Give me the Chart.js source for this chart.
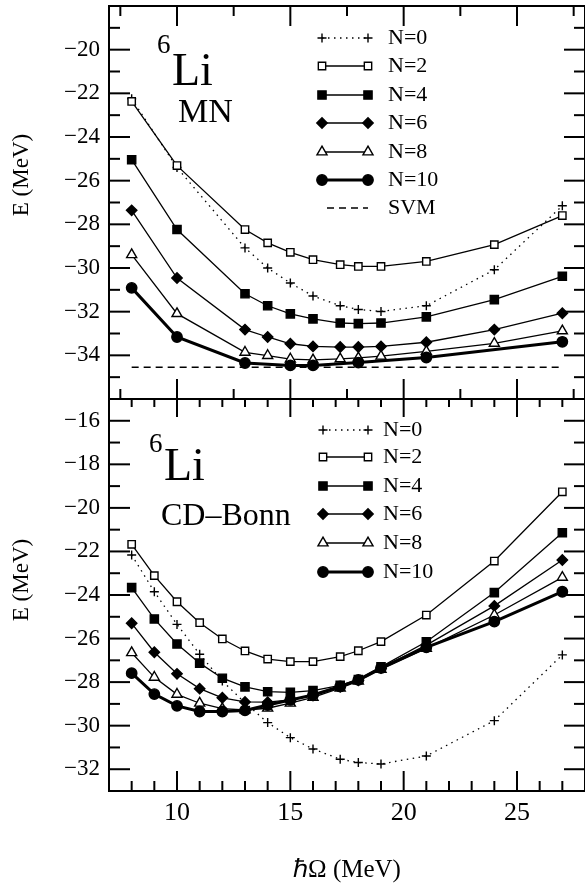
<!DOCTYPE html>
<html>
<head>
<meta charset="utf-8">
<script src="https://cdn.jsdelivr.net/npm/chart.js@4.4.1/dist/chart.umd.min.js"></script>
<style>
  html, body { margin: 0; padding: 0; background: #fff; }
  #wrap { position: relative; width: 585px; height: 892px; overflow: hidden; }
  canvas { position: absolute; left: 0; }
  #topChart { top: 0; }
  #botChart { top: 390px; }
</style>
</head>
<body>
<div id="wrap">
  <canvas id="topChart" width="585" height="402"></canvas>
  <canvas id="botChart" width="585" height="502"></canvas>
</div>
<script>
// 6Li ground state energy vs hbar*Omega, two interactions (MN on top, CD-Bonn below)

const seriesLabels = ['N=0', 'N=2', 'N=4', 'N=6', 'N=8', 'N=10'];

// --- top panel: MN ---
const mnX    = [8, 10, 13, 14, 15, 16, 17.2, 18, 19, 21, 24, 27];
const mnN0   = [-22.25, -25.40, -29.08, -30.00, -30.69, -31.28, -31.73, -31.90, -31.99, -31.73, -30.08, -27.15];
const mnN2   = [-22.37, -25.31, -28.24, -28.85, -29.28, -29.62, -29.85, -29.93, -29.93, -29.70, -28.93, -27.60];
const mnN4   = [-25.04, -28.24, -31.18, -31.73, -32.10, -32.33, -32.52, -32.55, -32.52, -32.24, -31.45, -30.38];
const mnN6   = [-27.36, -30.46, -32.82, -33.16, -33.47, -33.59, -33.62, -33.62, -33.59, -33.40, -32.82, -32.07];
const mnN8   = [-29.39, -32.09, -33.86, -34.01, -34.17, -34.21, -34.16, -34.12, -34.04, -33.82, -33.45, -32.88];
const mnN10X = [8, 10, 13, 15, 16, 18, 21, 27];
const mnN10  = [-30.91, -33.16, -34.35, -34.46, -34.46, -34.33, -34.10, -33.38];
const svmX   = [8, 27];
const svmE   = [-34.55, -34.55];

// --- bottom panel: CD-Bonn ---
const cdX   = [8, 9, 10, 11, 12, 13, 14, 15, 16, 17.2, 18, 19, 21, 24, 27];
const cdN0  = [-22.16, -23.85, -25.35, -26.72, -27.95, -28.95, -29.86, -30.55, -31.07, -31.54, -31.69, -31.76, -31.39, -29.77, -26.75];
const cdN2  = [-21.67, -23.11, -24.31, -25.27, -26.02, -26.57, -26.94, -27.06, -27.06, -26.83, -26.56, -26.14, -24.92, -22.44, -19.26];
const cdN4  = [-23.66, -25.10, -26.25, -27.13, -27.82, -28.22, -28.44, -28.47, -28.39, -28.15, -27.88, -27.30, -26.15, -23.89, -21.14];
const cdN6  = [-25.30, -26.63, -27.62, -28.30, -28.72, -28.91, -28.92, -28.82, -28.62, -28.22, -27.92, -27.36, -26.30, -24.50, -22.39];
const cdN8  = [-26.65, -27.78, -28.56, -28.97, -29.22, -29.28, -29.20, -28.97, -28.70, -28.28, -27.96, -27.42, -26.45, -24.92, -23.19];
const cdN10 = [-27.59, -28.55, -29.09, -29.35, -29.35, -29.30, -29.05, -28.82, -28.59, -28.20, -27.90, -27.35, -26.40, -25.22, -23.85];

// axis ticks
const xTicks    = [10, 15, 20, 25];
const mnYTicks  = [-34, -32, -30, -28, -26, -24, -22, -20];
const cdYTicks  = [-32, -30, -28, -26, -24, -22, -20, -18, -16];

const FONT = '"Liberation Serif", "Times New Roman", serif';

// marker / line look for N=0 ... N=10
const seriesStyle = [
  { pointStyle: 'cross',    pointRadius: 4.5, fill: '#000', borderWidth: 1.3, dash: [1.5, 4.5] },
  { pointStyle: 'rect',     pointRadius: 5.2, fill: '#fff', borderWidth: 1.3, dash: [] },
  { pointStyle: 'rect',     pointRadius: 5.8, fill: '#000', borderWidth: 1.3, dash: [] },
  { pointStyle: 'rectRot',  pointRadius: 5.2, fill: '#000', borderWidth: 1.3, dash: [] },
  { pointStyle: 'triangle', pointRadius: 5.8, fill: '#fff', borderWidth: 1.3, dash: [] },
  { pointStyle: 'circle',   pointRadius: 5.2, fill: '#000', borderWidth: 3,   dash: [] },
];

function pts(xs, ys) {
  return xs.map((x, i) => ({ x: x, y: ys[i] }));
}

function makeDatasets(list) {
  return list.map((d, i) => {
    const s = seriesStyle[i];
    return {
      label: seriesLabels[i],
      data: pts(d[0], d[1]),
      borderColor: '#000',
      borderWidth: s.borderWidth,
      borderDash: s.dash,
      pointStyle: s.pointStyle,
      pointRadius: s.pointRadius,
      pointBackgroundColor: s.fill,
      pointBorderColor: '#000',
      pointBorderWidth: 1.4,
      tension: 0,
      order: 5 - i,
    };
  });
}

function minusFmt(v) {
  return String(v).replace('-', '\u2212');
}

// no extra room for half tick labels, the frame is placed by hand
function noPad(s) {
  s.paddingTop = 0;
  s.paddingBottom = 0;
  s.paddingLeft = 0;
  s.paddingRight = 0;
}

// frame + inward tick marks on all four sides
const frameTicks = {
  id: 'frameTicks',
  afterDraw(chart, args, opts) {
    const { ctx, chartArea: a, scales: { x, y } } = chart;
    ctx.save();
    ctx.strokeStyle = '#000';
    ctx.lineWidth = 2;
    const seg = (x0, y0, x1, y1) => { ctx.beginPath(); ctx.moveTo(x0, y0); ctx.lineTo(x1, y1); ctx.stroke(); };
    ctx.strokeRect(a.left, a.top, a.right - a.left, a.bottom - a.top);
    // y ticks, every unit, long at even
    for (let v = Math.ceil(y.min) ; v <= y.max; v++) {
      if (v === y.min || v === y.max) continue;
      const py = y.getPixelForValue(v);
      const len = v % 2 === 0 ? 21 : 11;
      seg(a.left, py, a.left + len, py);
      seg(a.right, py, a.right - len, py);
    }
    // x ticks on top and bottom edges
    const edges = [[a.top, 1, opts.topStep, opts.topLen], [a.bottom, -1, opts.botStep, opts.botLen]];
    edges.forEach(([ey, dir, step, lens]) => {
      for (let v = Math.ceil(x.min / step) * step; v <= x.max; v += step) {
        if (v <= x.min || v >= x.max) continue;
        const px = x.getPixelForValue(v);
        const len = Math.abs(v % 5) < 1e-6 ? lens[0] : lens[1];
        seg(px, ey, px, ey + dir * len);
      }
    });
    ctx.restore();
  }
};

// in-panel legend, uses each dataset's own style
const panelLegend = {
  id: 'panelLegend',
  afterDraw(chart, args, opts) {
    const { ctx } = chart;
    const drawPt = Chart.helpers && Chart.helpers.drawPoint;
    ctx.save();
    ctx.font = '22px ' + FONT;
    ctx.textBaseline = 'middle';
    ctx.fillStyle = '#000';
    opts.rows.forEach((ry, i) => {
      if (i < seriesLabels.length) {
        const ds = chart.data.datasets[i];
        ctx.strokeStyle = '#000';
        ctx.lineWidth = ds.borderWidth;
        ctx.setLineDash(ds.borderDash);
        ctx.beginPath(); ctx.moveTo(opts.x0, ry); ctx.lineTo(opts.x1, ry); ctx.stroke();
        ctx.setLineDash([]);
        ctx.lineWidth = ds.pointBorderWidth;
        ctx.fillStyle = ds.pointBackgroundColor;
        [opts.x0, opts.x1].forEach(px => {
          if (drawPt) drawPt(ctx, { pointStyle: ds.pointStyle, radius: ds.pointRadius, rotation: 0, borderWidth: ds.pointBorderWidth }, px, ry);
        });
        ctx.fillStyle = '#000';
        ctx.fillText(seriesLabels[i], opts.tx, ry);
      } else {
        ctx.strokeStyle = '#000';
        ctx.lineWidth = 1.5;
        ctx.setLineDash([7, 5]);
        ctx.beginPath(); ctx.moveTo(opts.x0 + 5, ry); ctx.lineTo(opts.x1, ry); ctx.stroke();
        ctx.setLineDash([]);
        ctx.fillText('SVM', opts.tx, ry);
      }
    });
    ctx.restore();
  }
};

// free text: nucleus label, interaction name, y title
const panelText = {
  id: 'panelText',
  afterDraw(chart, args, opts) {
    const { ctx } = chart;
    ctx.save();
    ctx.fillStyle = '#000';
    ctx.textBaseline = 'alphabetic';
    opts.items.forEach(t => {
      ctx.font = t.size + 'px ' + FONT;
      ctx.fillText(t.text, t.x, t.y);
    });
    ctx.translate(opts.titleX, opts.titleY);
    ctx.rotate(-Math.PI / 2);
    ctx.font = '23px ' + FONT;
    ctx.textAlign = 'center';
    ctx.textBaseline = 'middle';
    ctx.fillText('E (MeV)', 0, 0);
    ctx.restore();
  }
};

function yAxis(min, max, ticks) {
  return {
    type: 'linear',
    min: min,
    max: max,
    afterFit: s => { s.width = 109; noPad(s); },
    afterBuildTicks: s => { s.ticks = ticks.map(v => ({ value: v })); },
    grid: { display: false, drawTicks: false },
    border: { display: false },
    ticks: {
      color: '#000',
      padding: 9,
      font: { family: FONT, size: 23 },
      callback: v => minusFmt(v),
    },
  };
}

// top chart (MN)
const topDatasets = makeDatasets([
  [mnX, mnN0], [mnX, mnN2], [mnX, mnN4], [mnX, mnN6], [mnX, mnN8], [mnN10X, mnN10]
]);
topDatasets.push({
  label: 'SVM',
  data: pts(svmX, svmE),
  borderColor: '#000',
  borderWidth: 1.5,
  borderDash: [7, 5],
  pointRadius: 0,
  order: 10,
});

new Chart(document.getElementById('topChart'), {
  type: 'line',
  data: { datasets: topDatasets },
  options: {
    responsive: false,
    animation: false,
    devicePixelRatio: 1,
    layout: { autoPadding: false, padding: { top: 6, right: 0, bottom: 3, left: 0 } },
    plugins: {
      legend: { display: false },
      tooltip: { enabled: false },
      frameTicks: { topStep: 2.5, topLen: [20, 10], botStep: 2.5, botLen: [20, 10] },
      panelLegend: { x0: 322, x1: 368, tx: 388, rows: [38, 66, 95, 123, 152, 180, 208] },
      panelText: {
        titleX: 22, titleY: 175,
        items: [
          { text: '6', x: 157, y: 53, size: 27 },
          { text: 'Li', x: 172, y: 85, size: 46 },
          { text: 'MN', x: 178, y: 122, size: 34 },
        ]
      },
    },
    scales: {
      x: { type: 'linear', min: 7, max: 28, display: false, afterFit: noPad },
      y: yAxis(-36, -18, mnYTicks),
    },
  },
  plugins: [frameTicks, panelLegend, panelText],
});

// bottom chart (CD-Bonn)
const botDatasets = makeDatasets([
  [cdX, cdN0], [cdX, cdN2], [cdX, cdN4], [cdX, cdN6], [cdX, cdN8], [cdX, cdN10]
]);

new Chart(document.getElementById('botChart'), {
  type: 'line',
  data: { datasets: botDatasets },
  options: {
    responsive: false,
    animation: false,
    devicePixelRatio: 1,
    layout: { autoPadding: false, padding: { top: 9, right: 0, bottom: 0, left: 0 } },
    plugins: {
      legend: { display: false },
      tooltip: { enabled: false },
      frameTicks: { topStep: 1, topLen: [18, 8], botStep: 1, botLen: [20, 10] },
      panelLegend: { x0: 323, x1: 368, tx: 383, rows: [40, 67, 96, 124, 153, 182] },
      panelText: {
        titleX: 22, titleY: 190,
        items: [
          { text: '6', x: 149, y: 62, size: 27 },
          { text: 'Li', x: 164, y: 90, size: 46 },
          { text: 'CD\u2013Bonn', x: 161, y: 135, size: 32 },
        ]
      },
    },
    scales: {
      x: {
        type: 'linear',
        min: 7,
        max: 28,
        afterFit: s => { s.height = 101; noPad(s); },
        afterBuildTicks: s => { s.ticks = xTicks.map(v => ({ value: v })); },
        grid: { display: false, drawTicks: false },
        border: { display: false },
        ticks: { color: '#000', padding: 7, maxRotation: 0, font: { family: FONT, size: 26 } },
        title: {
          display: true,
          text: '\u210F\u03A9 (MeV)',
          color: '#000',
          padding: 7,
          font: { family: FONT, size: 25 },
        },
      },
      y: yAxis(-33, -15, cdYTicks),
    },
  },
  plugins: [frameTicks, panelLegend, panelText],
});
</script>
</body>
</html>
